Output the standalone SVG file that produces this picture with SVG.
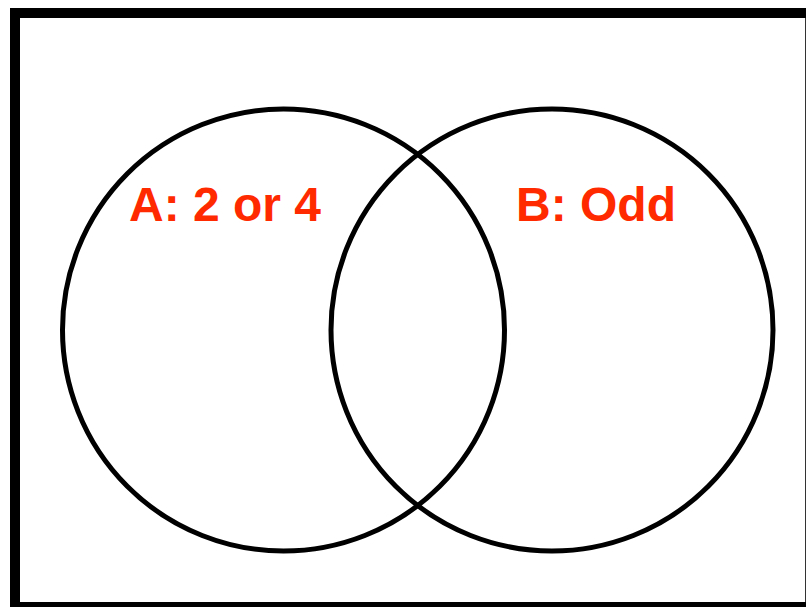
<svg xmlns="http://www.w3.org/2000/svg" width="806" height="607" viewBox="0 0 806 607">
<style>
.set{fill:none;stroke:#000;stroke-width:5}
.lbl{font-family:"Liberation Sans",Arial,sans-serif;font-weight:bold;font-size:48px;fill:#ff2a00}
</style>
<rect width="806" height="607" fill="#fff"/>
<g id="frame">
<rect x="15" y="13" width="820" height="594" fill="none" stroke="#000" stroke-width="10"/>
<line x1="805.5" y1="18" x2="805.5" y2="602" stroke="#333" stroke-width="1"/>
</g>
<g id="setA">
<circle class="set" cx="283.5" cy="330" r="221"/>
<text class="lbl" x="129" y="221">A: 2 or 4</text>
</g>
<g id="setB">
<circle class="set" cx="552" cy="330" r="221"/>
<text class="lbl" x="516" y="221">B: Odd</text>
</g>
</svg>
